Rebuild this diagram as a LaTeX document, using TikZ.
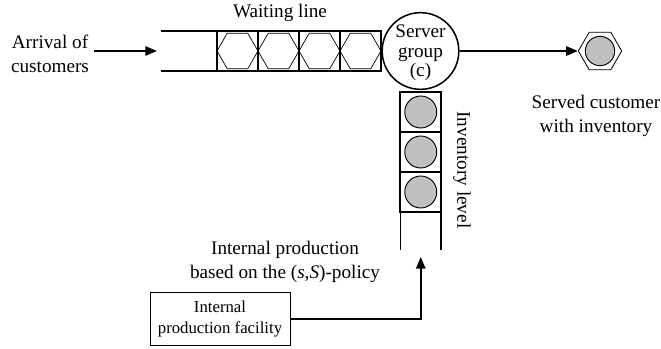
\documentclass[tikz,border=0pt]{standalone}
\usepackage{fontspec}
\setmainfont{Liberation Serif}
\usetikzlibrary{shapes.geometric,arrows.meta,positioning}
\begin{document}
\begin{tikzpicture}[x=0.03cm, y=-0.03cm, line width=1.3pt,
  every node/.style={font=\fontsize{16.4}{20}\selectfont, align=center},
  slotbox/.style={draw, line width=1.3pt, minimum width=1.23cm, minimum height=1.2cm, inner sep=0pt},
  hexa/.style={draw, regular polygon, regular polygon sides=6, minimum size=1.23cm, inner sep=0pt, line width=0.6pt},
  stock/.style={circle, draw, fill=gray!50, minimum size=0.96cm, inner sep=0pt, line width=0.8pt},
  flow/.style={-{Triangle[length=10pt,width=8pt]}, line width=1.5pt}]
  \useasboundingbox (0,0) rectangle (661,349);
  \def\slot{41}

  % waiting line
  \draw (161,31) -- (381,31);
  \draw (161,71) -- (381,71);
  \foreach \i in {1,...,4} {
    \node[slotbox] (w\i) at (196.5+\i*\slot,51) {};
    \node[hexa] (h\i) at (w\i) {};
  }
  \node (waiting) at (280,13) {Waiting line};
  \node (arrival) at (50,54) {Arrival of\\customers};
  \coordinate (queuein) at (157,51);
  \draw[flow] (arrival.east |- queuein) -- (queuein);

  % server
  \node[circle, draw, minimum size=2.3cm, inner sep=0pt] (server) at (420.5,51) {};
  \node[font=\fontsize{16.4}{16.8}\selectfont] (servertext) at (420.5,53) {Server\\group\\(c)};

  % inventory
  \draw (400.5,92) -- (400.5,250);
  \draw (441,92) -- (441,250);
  \foreach \j in {1,...,3} {
    \node[slotbox] (v\j) at (420.75,72+\j*40) {};
    \node[stock] (s\j) at (v\j) {};
  }
  \node[rotate=-90] (invlevel) at (462,170) {Inventory level};

  % served customer
  \node[hexa, minimum size=1.3cm, line width=0.7pt] (served) at (600,51) {};
  \node[stock, minimum size=0.88cm] (servedstock) at (served) {};
  \node (servedtext) at (596,116) {Served customer\\with inventory};
  \draw[flow] (server.east) -- (served.west);

  % production
  \node[draw, line width=0.8pt, minimum width=4.2cm, minimum height=1.6cm,
    font=\fontsize{14.3}{18}\selectfont] (facility) at (220,319) {Internal\\production facility};
  \node (policy) at (285,262) {Internal production\\based on the (\textit{s},\textit{S})-policy};
  \coordinate (colbottom) at (420.75,257);
  \draw[flow] (facility.east) -| (colbottom);
\end{tikzpicture}
\end{document}
